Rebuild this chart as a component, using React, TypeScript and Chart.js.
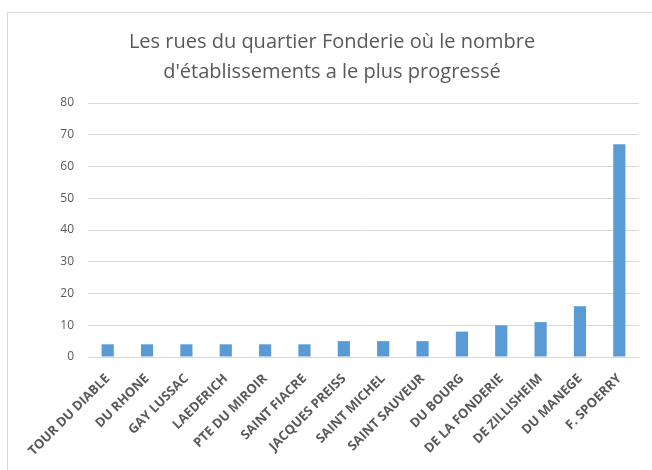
import React, { useEffect, useRef } from "react";
import { Chart, registerables } from "chart.js";

Chart.register(...registerables);

const categories = [
  "TOUR DU DIABLE",
  "DU RHONE",
  "GAY LUSSAC",
  "LAEDERICH",
  "PTE DU MIROIR",
  "SAINT FIACRE",
  "JACQUES PREISS",
  "SAINT MICHEL",
  "SAINT SAUVEUR",
  "DU BOURG",
  "DE LA FONDERIE",
  "DE ZILLISHEIM",
  "DU MANEGE",
  "F. SPOERRY",
];
const values = [4, 4, 4, 4, 4, 4, 5, 5, 5, 8, 10, 11, 16, 67];
const titleLines = [
  "Les rues du quartier Fonderie où le nombre",
  "d'établissements a le plus progressé",
];
const yMin = 0;
const yMax = 80;
const yStep = 10;

const frame = {
  id: "frame",
  beforeDraw(chart: any) {
    const ctx = chart.ctx;
    ctx.save();
    ctx.fillStyle = "#ffffff";
    ctx.fillRect(0, 0, chart.width, chart.height);
    ctx.strokeStyle = "#d9d9d9";
    ctx.lineWidth = 1;
    ctx.strokeRect(7.5, 12.5, 700, 500);
    ctx.restore();
  },
};

export default function App() {
  const ref = useRef<HTMLCanvasElement | null>(null);
  useEffect(() => {
    if (!ref.current) return;
    const chart = new Chart(ref.current, {
      type: "bar",
      data: {
        labels: categories,
        datasets: [
          {
            data: values,
            backgroundColor: "#5b9bd5",
            borderWidth: 0,
            barPercentage: 0.31,
            categoryPercentage: 1,
          },
        ],
      },
      plugins: [frame],
      options: {
        responsive: false,
        animation: false,
        layout: { padding: { left: 25, right: 13, top: 0, bottom: 0 } },
        plugins: {
          legend: { display: false },
          tooltip: { enabled: false },
          title: {
            display: true,
            text: titleLines,
            color: "#595959",
            font: { family: "'Open Sans'", size: 20, weight: "normal", lineHeight: 1.5 },
            padding: { top: 27, bottom: 16 },
          },
        },
        scales: {
          x: {
            grid: { display: false },
            border: { display: false },
            ticks: {
              color: "#595959",
              font: { family: "'Open Sans'", size: 13, weight: "bold" },
              minRotation: 45,
              maxRotation: 45,
              autoSkip: false,
              padding: 6,
            },
            afterFit(scale: any) {
              scale.height = 113;
            },
          },
          y: {
            min: yMin,
            max: yMax,
            ticks: {
              stepSize: yStep,
              color: "#595959",
              font: { family: "'Open Sans'", size: 12 },
              padding: 14,
            },
            grid: { color: "#d9d9d9", drawTicks: false, lineWidth: 1 },
            border: { display: false },
            afterFit(scale: any) {
              scale.width = 63;
            },
          },
        },
      },
    });
    return () => chart.destroy();
  }, []);
  return (
    <div style={{ position: "absolute", left: 0, top: 0, width: 652, height: 470 }}>
      <canvas ref={ref} width={652} height={470} style={{ display: "block" }} />
    </div>
  );
}
